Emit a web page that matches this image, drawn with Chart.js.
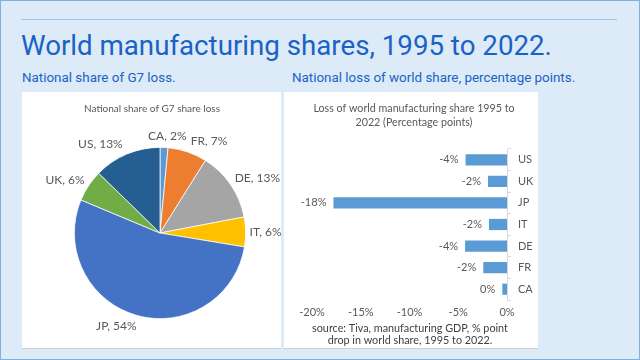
<!DOCTYPE html>
<html>
<head>
<meta charset="utf-8">
<script src="https://cdn.jsdelivr.net/npm/chart.js@4"></script>
<style>
  html, body { margin: 0; padding: 0; }
  body { width: 640px; height: 360px; overflow: hidden; background: #dcebf7; position: relative; font-family: Roboto, sans-serif; }
  .frame { position: absolute; left: 0; top: 0; width: 638px; height: 358px; border: 1px solid #7fb0e0; }
  .rule { position: absolute; left: 21px; top: 19px; width: 596px; height: 1px; background: #9dc3e6; }
  .title { position: absolute; left: 21px; top: 29px; font-size: 27.7px; color: #1a62c6; white-space: nowrap; font-family: Roboto, sans-serif; font-weight: 400; }
  .sub { position: absolute; top: 70px; font-size: 13.4px; color: #1a62c6; white-space: nowrap; font-family: Roboto, sans-serif; }
  .panel { position: absolute; top: 92px; height: 256px; background: #ffffff; box-shadow: 0 1px 0 #d0d0d0; }
  canvas { display: block; }
</style>
</head>
<body>
<div class="frame"></div>
<div class="rule"></div>
<div class="title">World manufacturing shares, 1995 to 2022.</div>
<div class="sub" style="left:22px">National share of G7 loss.</div>
<div class="sub" style="left:292px">National loss of world share, percentage points.</div>
<div class="panel" style="left:22px;width:259px"><canvas id="pie" width="259" height="256"></canvas></div>
<div class="panel" style="left:284px;width:254px"><canvas id="bar" width="254" height="256"></canvas></div>
<script>
// ---- data ----
const pieCategories = ['CA', 'FR', 'DE', 'IT', 'JP', 'UK', 'US'];
const pieShares = [1.5, 7.4, 13.1, 5.6, 53.7, 6.0, 12.7];           // % of G7 loss
const pieColors = ['#5b9bd5', '#ed7d31', '#a5a5a5', '#ffc000', '#4472c4', '#70ad47', '#255e91'];

const barCategories = ['US', 'UK', 'JP', 'IT', 'DE', 'FR', 'CA'];
const barValues = [-4.25, -1.95, -17.8, -1.85, -4.3, -2.43, -0.48]; // percentage points
const xTickValues = [-20, -15, -10, -5, 0];

const pieTitle = 'National share of G7 share loss';
const barTitle = ['Loss of world manufacturing share 1995 to', '2022 (Percentage points)'];
const barSource = ['source: Tiva, manufacturing GDP, % point', 'drop in world share, 1995 to 2022.'];

const FONT = 'Lato, "Open Sans", sans-serif';
const GREY = '#595959';

// draws centred text lines on the canvas
function textPlugin(id, lines, cx, cy, lineH, font, color) {
  return {
    id,
    afterDraw(chart) {
      const ctx = chart.ctx;
      ctx.save();
      ctx.font = font;
      ctx.fillStyle = color;
      ctx.textAlign = 'center';
      ctx.textBaseline = 'middle';
      lines.forEach((t, i) => ctx.fillText(t, cx, cy + i * lineH));
      ctx.restore();
    }
  };
}

// ---- pie: outside labels ----
const pieLabelPlugin = {
  id: 'pieLabels',
  afterDatasetsDraw(chart) {
    const ctx = chart.ctx;
    const meta = chart.getDatasetMeta(0);
    ctx.save();
    ctx.font = '12px ' + FONT;
    ctx.fillStyle = GREY;
    ctx.textAlign = 'center';
    ctx.textBaseline = 'middle';
    const boxes = [];
    meta.data.forEach((arc, i) => {
      const p = arc.getProps(['x', 'y', 'startAngle', 'endAngle', 'outerRadius'], true);
      const a = (p.startAngle + p.endAngle) / 2;
      const dx = Math.cos(a), dy = Math.sin(a);
      const px = p.x + dx * p.outerRadius, py = p.y + dy * p.outerRadius;
      const txt = chart.data.labels[i] + ', ' + Math.round(chart.data.datasets[0].data[i]) + '%';
      const w = ctx.measureText(txt).width;
      let cx = px + (w / 2 + 4) * Math.max(-1, Math.min(1, 3 * dx));
      const cy = py + 11 * dy;
      const prev = boxes[boxes.length - 1];
      if (prev && Math.abs(prev.cy - cy) < 12) {
        const overlap = (prev.cx + prev.w / 2 + 3) - (cx - w / 2);
        if (dx >= 0 && overlap > 0) cx += overlap;
      }
      boxes.push({ cx, cy, w });
      ctx.fillText(txt, cx, cy);
    });
    ctx.restore();
  }
};

new Chart(document.getElementById('pie'), {
  type: 'pie',
  data: {
    labels: pieCategories,
    datasets: [{ data: pieShares, backgroundColor: pieColors, borderColor: '#ffffff', borderWidth: 0.75 }]
  },
  options: {
    responsive: false,
    animation: false,
    layout: { padding: { left: 52, right: 35, top: 55, bottom: 29 } },
    plugins: { legend: { display: false }, tooltip: { enabled: false }, title: { display: false } }
  },
  plugins: [pieLabelPlugin, textPlugin('pieTitle', [pieTitle], 130, 17, 12, '10px ' + FONT, GREY)]
});

// ---- bar: value labels ----
const barLabelPlugin = {
  id: 'barLabels',
  afterDatasetsDraw(chart) {
    const ctx = chart.ctx;
    const meta = chart.getDatasetMeta(0);
    ctx.save();
    ctx.font = '11px ' + FONT;
    ctx.fillStyle = GREY;
    ctx.textAlign = 'right';
    ctx.textBaseline = 'middle';
    meta.data.forEach((bar, i) => {
      const p = bar.getProps(['x', 'y', 'base'], true);
      const v = Math.round(chart.data.datasets[0].data[i]);
      ctx.fillText((v === 0 ? 0 : v) + '%', Math.min(p.x, p.base) - 7, p.y);
    });
    ctx.restore();
  }
};

new Chart(document.getElementById('bar'), {
  type: 'bar',
  data: {
    labels: barCategories,
    datasets: [{ data: barValues, backgroundColor: '#5b9bd5', barPercentage: 0.52, categoryPercentage: 1 }]
  },
  options: {
    indexAxis: 'y',
    responsive: false,
    animation: false,
    layout: { padding: { left: 28, right: 0, top: 57, bottom: 28 } },
    scales: {
      x: {
        min: -20, max: 0,
        afterBuildTicks(scale) { scale.ticks = xTickValues.map(v => ({ value: v })); },
        afterFit(scale) { scale.height = 20; },
        grid: { display: false, drawTicks: false },
        border: { display: false },
        ticks: { color: GREY, font: { family: FONT, size: 11 }, padding: 6, maxRotation: 0, callback: v => v + '%' }
      },
      y: {
        position: 'right',
        afterFit(scale) { scale.width = 31; },
        grid: { drawOnChartArea: false, drawTicks: true, tickLength: 4, color: '#d9d9d9' },
        border: { display: true, color: '#d9d9d9' },
        ticks: { color: GREY, font: { family: FONT, size: 11 }, padding: 7 }
      }
    },
    plugins: { legend: { display: false }, tooltip: { enabled: false }, title: { display: false } }
  },
  plugins: [
    barLabelPlugin,
    textPlugin('barTitle', barTitle, 130, 17, 14, '10.7px ' + FONT, GREY),
    textPlugin('barSource', barSource, 126, 237, 12, '10.8px ' + FONT, '#404040')
  ]
});
</script>
</body>
</html>
